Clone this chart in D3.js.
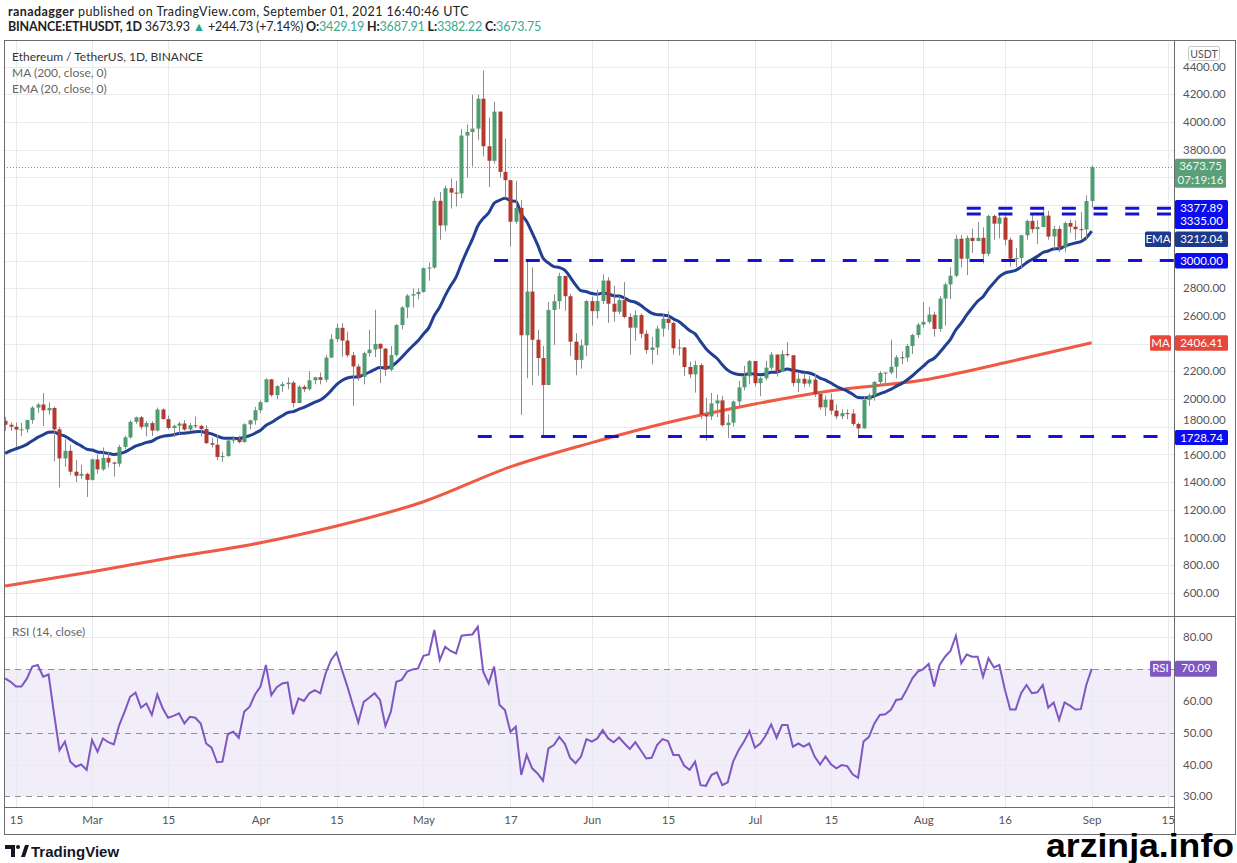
<!DOCTYPE html>
<html>
<head>
<meta charset="utf-8">
<script src="https://cdnjs.cloudflare.com/ajax/libs/d3/7.8.5/d3.min.js"></script>
<style>
  body { margin: 0; background: #fff; }
  svg { display: block; font-family: "Lato", "Liberation Sans", sans-serif; }
</style>
</head>
<body>
<svg id="chart" width="1237" height="863"></svg>
<script>
// daily candles, BINANCE ETHUSDT, first candle on this day
var firstDay = "2021-02-13";

var opens = [1843,1814,1800,1779,1781,1848,1938,1960,1918,1935,1781,1571,1626,1475,1446,1459,
  1416,1564,1492,1575,1541,1533,1654,1723,1835,1868,1799,1826,1772,1924,1855,1791,1806,1823,1780,1810,1806,1783,1681,1670,1582,1588,1700,1713,1689,1817,1846,
  1919,1977,2142,2028,2093,2107,2118,1971,2088,2071,2135,2157,2139,2299,2432,2514,2422,2316,2235,2161,2331,2357,2398,2364,2211,2317,2534,2662,2747,2757,
  2773,2945,2949,3431,3253,3522,3490,3484,3902,3928,3952,4168,3825,3720,4075,3640,3580,3280,3380,2460,2776,2428,2296,2101,2643,2706,2888,2742,2414,2282,2387,
  2707,2634,2707,2855,2688,2630,2714,2592,2515,2606,2471,2354,2372,2508,2579,2549,2367,2372,2231,2178,2245,1888,1874,1968,1990,1811,1829,1982,2084,2164,
  2274,2114,2150,2226,2321,2198,2324,2316,2115,2146,2111,2140,2036,1940,1995,1916,1875,1898,1895,1820,1788,1994,2027,2123,2188,2191,2233,2301,2299,2383,2462,
  2537,2557,2609,2506,2725,2827,2890,3157,3013,3163,3141,3164,3048,3322,3266,3310,3150,3013,3018,3182,3286,3226,3242,3324,3173,3228,3094,3271,3244,3226,3224,
  3429.19];

var highs = [1871,1830,1830,1828,1851,1948,1972,2042,1975,1945,1800,1710,1670,1560,1525,1468,
  1570,1599,1650,1622,1547,1669,1736,1845,1873,1878,1840,1839,1938,1932,1880,1815,1835,1847,1827,1873,1815,1810,1720,1740,1620,1711,1730,1735,1825,1851,1943,
  1990,2150,2145,2100,2125,2155,2132,2100,2102,2200,2160,2190,2318,2468,2544,2548,2487,2339,2252,2342,2500,2644,2402,2364,2383,2540,2670,2757,2798,2800,
  2950,2985,3456,3495,3540,3590,3575,3950,3983,4197,4199,4372,4032,4147,4075,3880,3584,3575,3438,2990,2950,2500,2383,2700,2755,2911,2891,2760,2475,2430,2715,
  2740,2790,2900,2880,2817,2742,2845,2619,2640,2617,2497,2449,2530,2617,2634,2560,2432,2376,2270,2276,2258,2010,2044,2031,2023,1889,1990,2131,2240,2282,
  2275,2160,2275,2340,2321,2351,2409,2318,2186,2190,2165,2184,2048,2025,2040,1960,1925,1925,1925,1830,2020,2040,2130,2200,2195,2428,2317,2344,2397,2470,2550,
  2700,2665,2630,2742,2840,2950,3185,3185,3180,3230,3276,3240,3330,3332,3335,3335,3165,3090,3185,3295,3333,3290,3374,3358,3250,3250,3280,3295,3290,3350,3470,
  3687.91];

var lows = [1770,1770,1656,1733,1757,1821,1900,1805,1888,1550,1360,1511,1450,1400,1422,1293,
  1410,1461,1481,1505,1440,1511,1637,1713,1821,1780,1730,1733,1765,1851,1781,1725,1746,1770,1770,1790,1730,1676,1650,1560,1546,1583,1680,1680,1684,1780,1815,
  1900,1975,2017,1998,2050,2070,1940,1970,2050,2060,2106,2106,2121,2295,2411,2306,2300,1950,2132,2106,2306,2302,2115,2166,2200,2306,2503,2584,2660,2720,
  2767,2853,2941,3150,3210,3375,3390,3450,3600,3680,3871,3750,3530,3699,3600,3450,3100,3265,1885,2150,2100,2170,1729,2100,2390,2650,2637,2310,2172,2220,2311,
  2530,2580,2687,2550,2558,2613,2582,2320,2420,2438,2327,2250,2317,2450,2500,2322,2314,2165,2150,2046,1855,1700,1848,1870,1800,1719,1800,1940,2062,2106,
  2090,2020,2135,2212,2162,2195,2306,2090,2050,2085,2090,2015,1924,1878,1887,1855,1856,1854,1804,1718,1785,1950,1988,2100,2100,2178,2150,2250,2270,2325,2440,
  2515,2545,2450,2485,2530,2722,2880,2950,2895,3055,3140,2980,3030,3150,3160,3110,2955,2955,2945,3150,3200,3120,3240,3150,3080,3060,3060,3200,3150,3150,3155,
  3382.22];

var closes = [1814,1800,1779,1781,1848,1938,1960,1918,1935,1781,1571,1626,1475,1446,1459,1416,
  1564,1492,1575,1541,1533,1654,1723,1835,1868,1799,1826,1772,1924,1855,1791,1806,1823,1780,1810,1806,1783,1681,1670,1582,1588,1700,1713,1689,1817,1846,1919,
  1977,2142,2028,2093,2107,2118,1971,2088,2071,2135,2157,2139,2299,2432,2514,2422,2316,2235,2161,2331,2357,2398,2364,2211,2317,2534,2662,2747,2757,2773,
  2945,2949,3431,3253,3522,3490,3484,3902,3928,3952,4168,3825,3720,4075,3640,3580,3280,3380,2460,2776,2428,2296,2101,2643,2706,2888,2742,2414,2282,2387,2707,
  2634,2707,2855,2688,2630,2714,2592,2515,2606,2471,2354,2372,2508,2579,2549,2367,2372,2231,2178,2245,1888,1874,1968,1990,1811,1829,1982,2084,2164,2274,
  2114,2150,2226,2321,2198,2324,2316,2115,2146,2111,2140,2036,1940,1995,1916,1875,1898,1895,1820,1788,1994,2027,2123,2188,2191,2233,2301,2299,2383,2462,2537,
  2557,2609,2506,2725,2827,2890,3157,3013,3163,3141,3164,3048,3322,3266,3310,3150,3013,3018,3182,3286,3226,3242,3324,3173,3228,3094,3271,3244,3226,3224,3429.19,
  3673.75];

// EMA (20, close) per day
var ema20 = [1608,1626.3,1640.8,1654.1,1672.6,1697.9,1722.9,1741.5,1759.9,1761.9,1743.7,1732.5,1708.0,1683.1,1661.8,1638.4,
  1631.3,1618.0,1613.9,1607.0,1600.0,1605.1,1616.3,1637.1,1659.1,1672.4,1687.0,1695.1,1716.9,1730.0,1735.8,1742.5,1750.2,1753.0,1758.4,1762.9,1764.8,1756.8,1748.5,1732.6,1718.8,1717.0,1716.6,1714.0,1723.8,1735.4,1752.9,
  1774.2,1809.2,1830.0,1855.0,1879.0,1901.8,1908.4,1925.5,1939.4,1958.0,1976.9,1992.3,2021.5,2060.6,2103.8,2134.1,2151.4,2159.4,2159.6,2175.9,2193.1,2212.6,2227.0,2225.5,2234.2,2262.7,2300.7,2343.2,2382.6,2419.8,
  2469.8,2515.4,2602.6,2664.5,2746.1,2816.9,2880.4,2977.7,3068.2,3152.4,3249.1,3303.9,3343.5,3413.2,3434.8,3448.6,3432.5,3427.5,3335.4,3282.1,3200.8,3114.6,3018.1,2982.4,2956.1,2949.6,2929.8,2880.7,2823.7,2782.1,2774.9,
  2761.5,2756.3,2765.7,2758.3,2746.1,2743.0,2728.6,2708.3,2698.6,2676.9,2646.1,2620.0,2609.3,2606.4,2600.9,2578.6,2558.9,2527.7,2494.4,2470.6,2415.1,2363.6,2325.9,2293.9,2247.9,2208.0,2186.5,2176.7,2175.5,2184.9,
  2178.1,2175.4,2180.2,2193.6,2194.0,2206.4,2216.8,2207.1,2201.3,2192.7,2187.7,2173.3,2151.1,2136.2,2115.2,2092.3,2073.8,2056.8,2034.3,2010.8,2009.2,2010.9,2021.6,2037.4,2052.0,2069.2,2091.3,2111.1,2137.0,2168.0,2203.1,
  2236.8,2272.2,2294.5,2335.5,2382.3,2430.6,2499.8,2548.7,2607.2,2658.0,2706.2,2738.7,2794.2,2839.1,2883.9,2909.2,2919.1,2928.5,2952.6,2984.3,3007.3,3029.7,3057.7,3068.7,3083.9,3084.9,3102.6,3116.1,3126.6,3135.9,3163.8,
  3212.04];

// MA (200, close) read at a few dates
var maDates = ["2021-02-13","2021-03-01","2021-03-15","2021-04-01","2021-04-15","2021-05-01","2021-05-17","2021-06-01","2021-06-15","2021-07-01","2021-07-15","2021-08-01","2021-08-16","2021-09-01"];
var maValues = [650,753,850,962,1083,1258,1510,1685,1830,1964,2060,2137,2262,2406.41];

// RSI (14, close) per day
var rsi14 = [67.1,66,64.5,64.5,67,70.8,71.3,67.6,68.3,56,44.5,47.2,40.9,39.3,40,38.3,
  47.7,44,48.2,47,46.3,52.4,56.6,61.3,62.6,57.9,59.2,55.6,62,57.7,54.7,55.3,56.1,52.9,55,54.7,52.9,46.6,45.3,40.7,40.9,49.6,50.3,48.4,56.6,58.2,62,
  64.5,71.3,61.8,64.3,65.5,65.8,55.8,60.8,60,62.4,63.4,62.4,68.7,72.9,75.2,69.7,64.5,58.7,53.2,59.7,61,62.4,60.3,52.1,56.6,66,66.6,69.2,69.9,70.2,
  74.2,74.6,82.3,72.9,77,75.7,74.9,80.5,80.7,80.9,83.3,69.2,65.5,70.8,58.7,57.1,50.3,51.9,36.7,43,38.8,37.2,34.9,45.1,46.1,48.7,46.6,42.1,40.4,42.5,48,
  47.2,48.2,50.8,48.2,47,48.5,46.6,44.9,47,44.5,41.9,42.1,46.1,48,47.4,43,43,39.6,38.3,40.9,33.5,33.3,36.7,37.5,33.5,34.4,40.9,44.5,47.2,50.5,
  45.3,46.6,49.1,52.6,48.4,52.4,52.4,45.6,46.6,45.6,46.6,42.5,40,42.5,40.1,38.8,39.8,39.5,36.9,35.8,47.2,48.7,52.9,55.6,55.8,57.1,60.3,60.6,63.7,67.1,69.2,
  70,71.6,64.5,71.3,73.9,75.7,80.5,71.8,74.6,73.9,73.9,67.6,73.4,70.5,71.3,63.7,57.3,57.3,62.4,65,62.4,62.7,65,57.9,59.5,54,59.5,58.5,57.3,57.4,65,
  70.09];

// horizontal levels drawn by the author
var levelValues = [1728.74, 3000, 3335, 3377.89];
var levelStarts = ["2021-05-11", "2021-05-14", "2021-08-09", "2021-08-09"];

// ticks
var priceTicks = [600,800,1000,1200,1400,1600,1800,2000,2200,2400,2600,2800,3000,3200,3400,3600,3800,4000,4200,4400];
var rsiTicks = [30,40,50,60,70,80];
var timeTicks = ["2021-02-15","2021-03-01","2021-03-15","2021-04-01","2021-04-15","2021-05-01","2021-05-17","2021-06-01","2021-06-15","2021-07-01","2021-07-15","2021-08-01","2021-08-16","2021-09-01","2021-09-15"];
var timeLabels = ["15","Mar","15","Apr","15","May","17","Jun","15","Jul","15","Aug","16","Sep","15"];

var parseDay = d3.utcParse("%Y-%m-%d");
var start = parseDay(firstDay);
var candles = closes.map(function(c, i) {
    return {date: d3.utcDay.offset(start, i), open: opens[i], high: highs[i], low: lows[i], close: c, ema: ema20[i], rsi: rsi14[i]};
});

var svg = d3.select("#chart");
var left = 4, right = 1174, mainTop = 40, mainBottom = 616, rsiBottom = 807, axisBottom = 834;

var x = d3.scaleUtc()
    .domain([parseDay("2021-02-15"), parseDay("2021-09-01")])
    .range([16, 1091.7]);
var y = d3.scaleLinear().domain([600, 4400]).range([592.9, 66.6]);
var yr = d3.scaleLinear().domain([30, 80]).range([796.3, 637.3]);

var defs = svg.append("defs");
defs.append("clipPath").attr("id", "clipMain").append("rect")
    .attr("x", left + 1).attr("y", mainTop + 1).attr("width", right - left - 1).attr("height", mainBottom - mainTop - 1);
defs.append("clipPath").attr("id", "clipRsi").append("rect")
    .attr("x", left + 1).attr("y", mainBottom + 1).attr("width", right - left - 1).attr("height", rsiBottom - mainBottom - 1);

// header
var head = svg.append("g").attr("font-family", "Lato, 'Liberation Sans', sans-serif").attr("font-size", 12.5).attr("fill", "#222");
var h1 = head.append("text").attr("x", 8).attr("y", 16).attr("letter-spacing", 0.42);
h1.append("tspan").attr("font-weight", "bold").text("ranadagger");
h1.append("tspan").text(" published on TradingView.com, September 01, 2021 16:40:46 UTC");
var h2 = head.append("text").attr("x", 8).attr("y", 31).attr("letter-spacing", -0.2);
h2.append("tspan").attr("font-weight", "bold").text("BINANCE:ETHUSDT, 1D");
h2.append("tspan").text(" 3673.93 ");
h2.append("tspan").attr("fill", "#26a69a").text("▲");
h2.append("tspan").text(" +244.73 (+7.14%) ");
[["O:", "3429.19"], ["H:", "3687.91"], ["L:", "3382.22"], ["C:", "3673.75"]].forEach(function(p, i) {
    h2.append("tspan").attr("font-weight", "bold").text(p[0]);
    h2.append("tspan").attr("fill", "#3aa88f").text(p[1] + (i < 3 ? " " : ""));
});

// rsi band
svg.append("rect")
    .attr("x", left + 1).attr("width", right - left - 1)
    .attr("y", yr(70)).attr("height", yr(30) - yr(70))
    .attr("fill", "#f1edf9");

// grid
var grid = svg.append("g").attr("stroke", "#e9eaee").attr("stroke-width", 1);
grid.selectAll(".vg").data(timeTicks).enter().append("line")
    .attr("x1", function(d) { return Math.round(x(parseDay(d))) + 0.5; })
    .attr("x2", function(d) { return Math.round(x(parseDay(d))) + 0.5; })
    .attr("y1", mainTop).attr("y2", rsiBottom);
grid.selectAll(".hg").data(priceTicks).enter().append("line")
    .attr("x1", left).attr("x2", right)
    .attr("y1", function(d) { return Math.round(y(d)) + 0.5; })
    .attr("y2", function(d) { return Math.round(y(d)) + 0.5; });
grid.selectAll(".rg").data([40, 60, 80]).enter().append("line")
    .attr("x1", left).attr("x2", right)
    .attr("y1", function(d) { return Math.round(yr(d)) + 0.5; })
    .attr("y2", function(d) { return Math.round(yr(d)) + 0.5; });

svg.append("g").selectAll("line").data([30, 50, 70]).enter().append("line")
    .attr("x1", left).attr("x2", right)
    .attr("y1", function(d) { return Math.round(yr(d)) + 0.5; })
    .attr("y2", function(d) { return Math.round(yr(d)) + 0.5; })
    .attr("stroke", "#8f8f95").attr("stroke-dasharray", "6,5");

// main pane
var main = svg.append("g").attr("clip-path", "url(#clipMain)");

// last price dotted line
main.append("line")
    .attr("x1", left).attr("x2", right)
    .attr("y1", Math.round(y(3673.75)) + 0.5).attr("y2", Math.round(y(3673.75)) + 0.5)
    .attr("stroke", "#6f9e84").attr("stroke-dasharray", "1,2");

var maLine = d3.line()
    .x(function(d, i) { return x(parseDay(maDates[i])); })
    .y(function(d) { return y(d); })
    .curve(d3.curveMonotoneX);
main.append("path").datum(maValues)
    .attr("d", maLine).attr("fill", "none")
    .attr("stroke", "#ef5a45").attr("stroke-width", 3);

var emaLine = d3.line()
    .x(function(d) { return x(d.date); })
    .y(function(d) { return y(d.ema); })
    .curve(d3.curveMonotoneX);
main.append("path").datum(candles)
    .attr("d", emaLine).attr("fill", "none")
    .attr("stroke", "#213f93").attr("stroke-width", 3);

var up = "#4e9c70", down = "#b3392f";
var bar = main.selectAll(".bar").data(candles).enter().append("g").attr("class", "bar");
bar.append("line")
    .attr("x1", function(d) { return Math.round(x(d.date)) + 0.5; })
    .attr("x2", function(d) { return Math.round(x(d.date)) + 0.5; })
    .attr("y1", function(d) { return y(d.high); })
    .attr("y2", function(d) { return y(d.low); })
    .attr("stroke", "#8c8c8e").attr("stroke-width", 1);
bar.append("rect")
    .attr("x", function(d) { return Math.round(x(d.date)) - 1.5; })
    .attr("width", 4)
    .attr("y", function(d) { return y(Math.max(d.open, d.close)); })
    .attr("height", function(d) { return Math.max(1, Math.abs(y(d.open) - y(d.close))); })
    .attr("fill", function(d) { return d.close >= d.open ? up : down; });

// dashed levels
main.selectAll(".lvl").data(levelValues).enter().append("line")
    .attr("x1", function(d, i) { return x(parseDay(levelStarts[i])); })
    .attr("x2", right)
    .attr("y1", function(d) { return y(d); })
    .attr("y2", function(d) { return y(d); })
    .attr("stroke", "#1313d4").attr("stroke-width", 3)
    .attr("stroke-dasharray", "14,17.7");

// rsi pane
var rsiG = svg.append("g").attr("clip-path", "url(#clipRsi)");
rsiG.append("path").datum(candles)
    .attr("d", d3.line().x(function(d) { return x(d.date); }).y(function(d) { return yr(d.rsi); }))
    .attr("fill", "none").attr("stroke", "#7e57c2").attr("stroke-width", 2);

// legends
var leg = svg.append("g").attr("font-size", 12).attr("fill", "#444");
leg.append("text").attr("x", 12).attr("y", 61).attr("fill", "#333").text("Ethereum / TetherUS, 1D, BINANCE");
leg.append("text").attr("x", 12).attr("y", 77).attr("fill", "#666").text("MA (200, close, 0)");
leg.append("text").attr("x", 12).attr("y", 93).attr("fill", "#666").text("EMA (20, close, 0)");
leg.append("text").attr("x", 12).attr("y", 636).attr("fill", "#666").text("RSI (14, close)");

// frame
var frame = svg.append("g").attr("stroke", "#6b6b70").attr("fill", "none");
frame.append("rect").attr("x", left + 0.5).attr("y", mainTop + 0.5).attr("width", 1236 - left - 1).attr("height", axisBottom - mainTop);
frame.append("line").attr("x1", right + 0.5).attr("x2", right + 0.5).attr("y1", mainTop).attr("y2", axisBottom);
frame.append("line").attr("x1", left).attr("x2", 1236).attr("y1", mainBottom + 0.5).attr("y2", mainBottom + 0.5);
frame.append("line").attr("x1", left).attr("x2", right).attr("y1", rsiBottom + 0.5).attr("y2", rsiBottom + 0.5);

// price axis, skip labels hidden under the value tags
var tagYs = [y(3673.75), y(3673.75) + 13, 208.2, 222.7, 239.3, y(3000), y(2406.41)];
var shownTicks = priceTicks.filter(function(t) {
    return !tagYs.some(function(ty) { return Math.abs(y(t) - ty) < 9.5; });
});
var yAxis = svg.append("g").attr("transform", "translate(" + right + ",0)")
    .call(d3.axisRight(y).tickValues(shownTicks).tickSize(0).tickPadding(9).tickFormat(d3.format(".2f")));
yAxis.select(".domain").remove();
yAxis.selectAll("text").attr("font-family", "Lato, 'Liberation Sans', sans-serif").attr("font-size", 11.5).attr("fill", "#555");
// 1800 sits just above the 1728.74 tag
yAxis.selectAll(".tick").filter(function(d) { return d === 1800; }).select("text").attr("dy", "-0.25em");

var rAxis = svg.append("g").attr("transform", "translate(" + right + ",0)")
    .call(d3.axisRight(yr).tickValues(rsiTicks.filter(function(t) { return t !== 70; })).tickSize(0).tickPadding(9).tickFormat(d3.format(".2f")));
rAxis.select(".domain").remove();
rAxis.selectAll("text").attr("font-family", "Lato, 'Liberation Sans', sans-serif").attr("font-size", 11.5).attr("fill", "#555");

// time axis
var xAxis = svg.append("g").attr("transform", "translate(0," + rsiBottom + ")")
    .call(d3.axisBottom(x).tickValues(timeTicks.map(parseDay)).tickSize(0).tickPadding(9)
        .tickFormat(function(d, i) { return timeLabels[i]; }));
xAxis.select(".domain").remove();
xAxis.selectAll("text").attr("font-family", "Lato, 'Liberation Sans', sans-serif").attr("font-size", 11.5).attr("fill", "#555");

// value tags
function tag(x0, y0, w, h, bg, lines, color) {
    var g = svg.append("g");
    g.append("rect").attr("x", x0).attr("y", y0).attr("width", w).attr("height", h).attr("rx", 1.5).attr("fill", bg);
    lines.forEach(function(t, i) {
        g.append("text").attr("x", x0 + w / 2).attr("y", y0 + 11.5 + i * 13.5)
            .attr("text-anchor", "middle").attr("font-size", 11.5)
            .attr("fill", color || "#fff").text(t);
    });
}
tag(right + 1, y(3673.75) - 8.5, 51, 29, "#5a9f77", ["3673.75", "07:19:16"], "#eef8f1");
tag(right + 1, 200, 53, 29, "#0c0cf0", ["3377.89", "3335.00"]);
tag(right + 1, 231.5, 53, 15.5, "#1b3a8c", ["3212.04"]);
tag(1145, 231.5, 26, 15.5, "#1b3a8c", ["EMA"]);
tag(right + 1, y(3000) - 7.5, 53, 15.5, "#0c0cf0", ["3000.00"]);
tag(right + 1, y(2406.41) - 7.5, 53, 15.5, "#e8473b", ["2406.41"]);
tag(1150, y(2406.41) - 7.5, 21, 15.5, "#e8473b", ["MA"]);
tag(right + 1, y(1728.74) - 6.5, 53, 15, "#0c0cf0", ["1728.74"]);
tag(right + 1, yr(70.09) - 8, 42, 16, "#7e57c2", ["70.09"]);
tag(1150, yr(70.09) - 8, 21, 16, "#7e57c2", ["RSI"]);

// currency box
svg.append("rect").attr("x", 1188.5).attr("y", 46.5).attr("width", 31).attr("height", 14).attr("rx", 2)
    .attr("fill", "#fff").attr("stroke", "#c8c8cc");
svg.append("text").attr("x", 1204).attr("y", 57.5).attr("text-anchor", "middle")
    .attr("font-size", 10.5).attr("fill", "#555").text("USDT");

// tradingview logo
var logo = svg.append("g").attr("fill", "#131722");
logo.append("path").attr("d", "M5 845 h10 v12 h-4 v-8 h-6 z");
logo.append("circle").attr("cx", 18).attr("cy", 847).attr("r", 2);
logo.append("path").attr("d", "M21 857 l4 -12 h4 l-4 12 z");
logo.append("text").attr("x", 31).attr("y", 857).attr("font-size", 15).attr("font-weight", "bold")
    .attr("font-family", "'Liberation Sans', sans-serif").text("TradingView");

// watermark
svg.append("text").attr("x", 1046).attr("y", 857)
    .attr("font-family", "'Liberation Sans', Arial, sans-serif").attr("font-weight", "bold")
    .attr("font-size", 33).attr("fill", "#000")
    .attr("textLength", 188).attr("lengthAdjust", "spacingAndGlyphs")
    .text("arzinja.info");
</script>
</body>
</html>
